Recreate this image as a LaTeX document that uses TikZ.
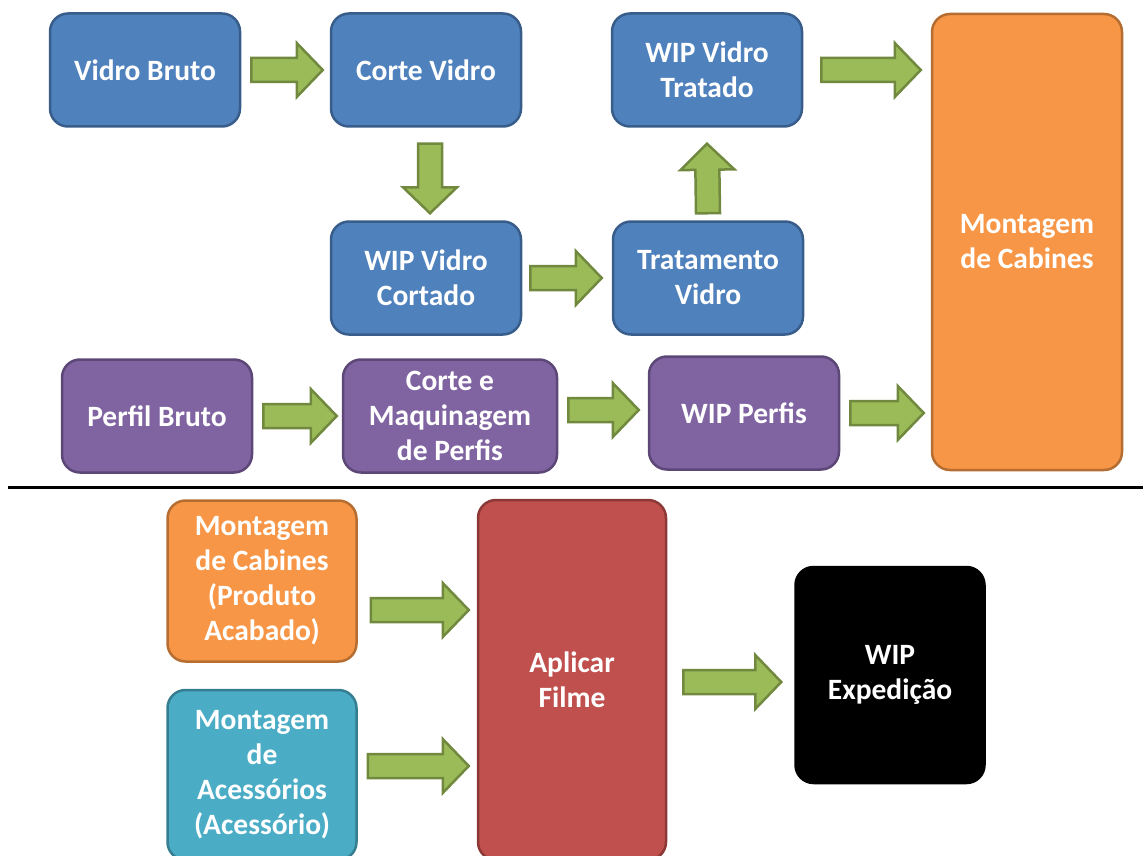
\documentclass[tikz,border=0pt]{standalone}
\usepackage{fontspec}
\setmainfont{Carlito}
\usetikzlibrary{calc}
\usepackage{xcolor}

\definecolor{blueFill}{RGB}{79,129,189}
\definecolor{blueLine}{RGB}{56,93,138}
\definecolor{purpleFill}{RGB}{128,100,162}
\definecolor{purpleLine}{RGB}{92,71,118}
\definecolor{orangeFill}{RGB}{247,150,70}
\definecolor{orangeLine}{RGB}{182,109,49}
\definecolor{tealFill}{RGB}{75,172,198}
\definecolor{tealLine}{RGB}{53,125,145}
\definecolor{redFill}{RGB}{192,80,77}
\definecolor{redLine}{RGB}{140,56,54}
\definecolor{greenFill}{RGB}{155,187,89}
\definecolor{greenLine}{RGB}{113,137,63}

\tikzset{
  box/.style={rectangle, rounded corners=18pt, line width=2.5pt, inner sep=0pt,
    minimum width=190pt, minimum height=113pt, align=center, text=white,
    font=\bfseries\fontsize{29.5}{35}\selectfont},
  bluebox/.style={box, fill=blueFill, draw=blueLine},
  purplebox/.style={box, fill=purpleFill, draw=purpleLine},
  orangebox/.style={box, fill=orangeFill, draw=orangeLine},
  tealbox/.style={box, fill=tealFill, draw=tealLine},
  redbox/.style={box, fill=redFill, draw=redLine},
  blackbox/.style={box, fill=black, draw=black},
  flow/.style={fill=greenFill, draw=greenLine, line width=2.5pt, line join=miter,
    to path={let \p1=(\tikztostart), \p2=(\tikztotarget), \p3=($(\p2)!26pt!(\p1)$) in
      ($(\p1)!12pt!90:(\p2)$) -- ($(\p3)!12pt!-90:(\p1)$) -- ($(\p3)!27pt!-90:(\p1)$)
      -- (\p2) -- ($(\p3)!27pt!90:(\p1)$) -- ($(\p3)!12pt!90:(\p1)$)
      -- ($(\p1)!12pt!-90:(\p2)$) -- cycle}}
}

\begin{document}
\begin{tikzpicture}[x=1pt,y=-1pt]
\useasboundingbox (0,0) rectangle (1143,856);
\clip (0,0) rectangle (1143,856);

% Glass line
\node [bluebox] (vb) at (145,70) {Vidro Bruto};
\node [bluebox] (cv) at (426,70) {Corte Vidro};
\node [bluebox] (wvt) at (707,70) {WIP Vidro\\Tratado};
\node [bluebox] (wvc) at (426,278) {WIP Vidro\\Cortado};
\node [bluebox] (tv) at (708,278) {Tratamento\\Vidro};
% Assembly
\node [orangebox, minimum height=456pt] (mc) at (1027,242) {Montagem\\de Cabines};
% Profile line
\node [purplebox] (pb) at (157,416) {Perfil Bruto};
\node [purplebox, minimum width=214pt] (cm) at (450,416) {Corte e\\Maquinagem\\de Perfis};
\node [purplebox] (wp) at (744,413) {WIP Perfis};

%Straight Lines
\draw [line width=3pt] (8,487) -- (1143,487);

% Finishing
\node [orangebox, minimum width=189pt, minimum height=161pt] (mpa) at (262,581) {Montagem\\de Cabines\\(Produto\\Acabado)};
\node [tealbox, minimum width=189pt, minimum height=170pt] (ma) at (262,775) {Montagem\\de\\Acessórios\\(Acessório)};
\node [redbox, minimum width=188pt, minimum height=360pt] (af) at (572,680) {Aplicar\\Filme};
\node [blackbox, minimum width=189pt, minimum height=216pt] (we) at (890,675) {WIP\\Expedição};

% Block arrows
\draw [flow] ([xshift=10pt]vb.east) to ([xshift=-7pt]cv.west);
\draw [flow] ([xshift=4pt,yshift=-16pt]cv.south) to ([xshift=4pt,yshift=7pt]wvc.north);
\draw [flow] ([xshift=8pt]wvc.east) to ([xshift=-10pt]tv.west);
\draw [flow] ([yshift=7pt]tv.north) to ([yshift=-16pt]wvt.south);
\draw [flow] ([xshift=18pt]wvt.east) to ($(mc.west |- wvt)+(-10pt,0)$);
\draw [flow] ([xshift=10pt]pb.east) to ($(cm.west)+(-5pt,0)$);
\draw [flow] ($(cm.east |- wp)+(10pt,3pt)$) to ([xshift=-9pt,yshift=3pt]wp.west);
\draw [flow] ([xshift=10pt]wp.east) to ($(mc.west |- wp)+(-7pt,0)$);
\draw [flow] ([xshift=13pt,yshift=-29pt]mpa.east) to ($(af.west |- mpa)+(-8pt,-29pt)$);
\draw [flow] ([xshift=10pt,yshift=9pt]ma.east) to ($(af.west |- ma)+(-8pt,9pt)$);
\draw [flow] ([xshift=16pt,yshift=-2pt]af.east) to ($(we.west |- af)+(-13pt,-2pt)$);

\end{tikzpicture}
\end{document}
